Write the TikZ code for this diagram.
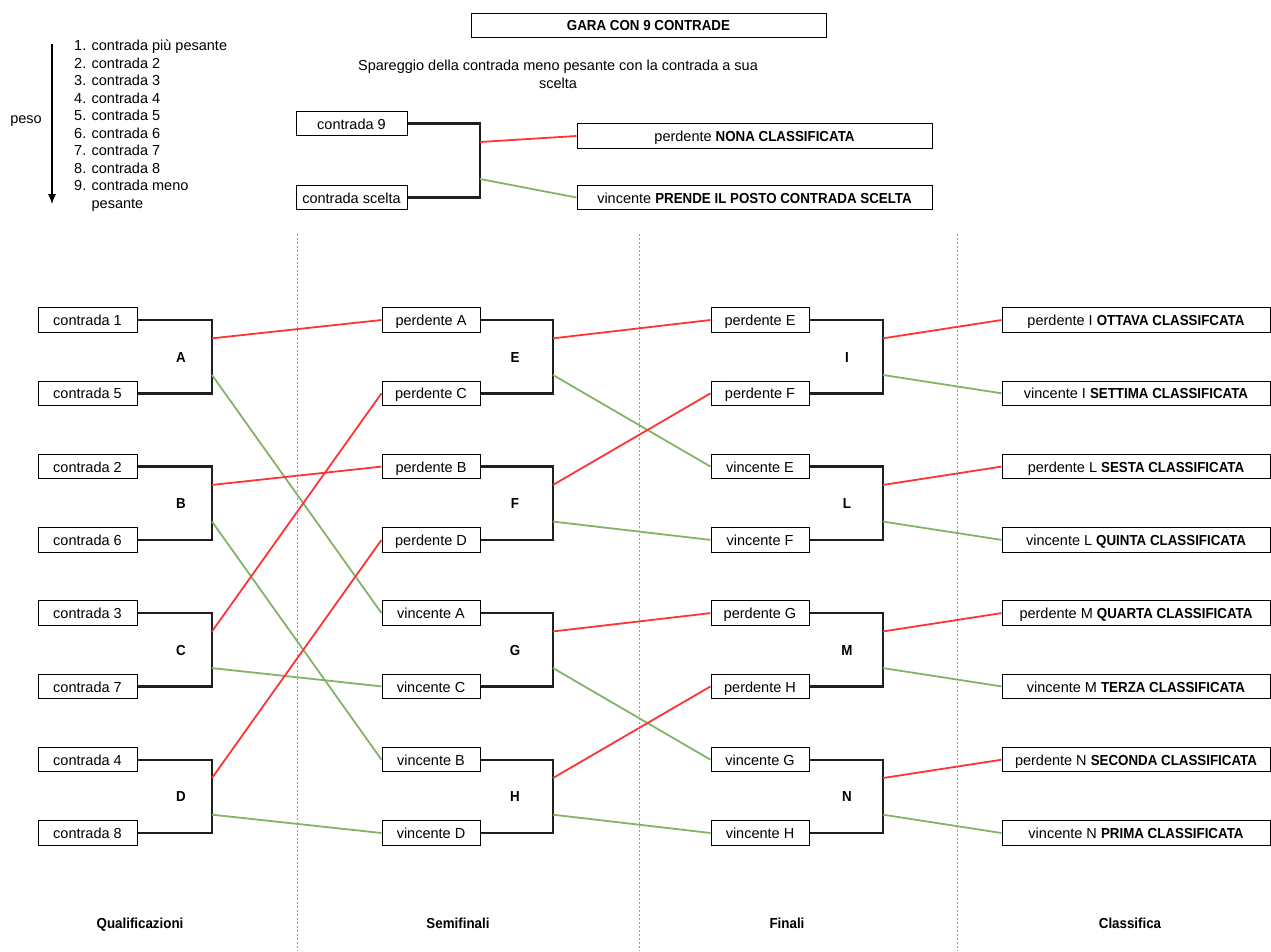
\documentclass[tikz,border=0pt]{standalone}
\usepackage{fontspec}
\setmainfont{Liberation Sans}[BoldFeatures={FakeStretch=0.92}]
\usetikzlibrary{arrows.meta}
\definecolor{lred}{HTML}{FF3333}
\definecolor{lgreen}{HTML}{82B366}
\newcommand\mkbracket[7]{%
  \draw[brk] (#1.east) -- (#4,#5) -- (#4,#6) -- (#2.east);
  \coordinate (#3r) at (#4,{#5+0.25*(#6-#5)});
  \coordinate (#3g) at (#4,{#5+0.75*(#6-#5)});
  \node[lab] (#3lab) at (#7,{0.5*(#5+#6)}) {#3};}
\begin{document}
\begin{tikzpicture}[x=1pt,y=-1pt,
  every node/.style={font=\fontsize{14.5}{17.4}\selectfont, inner sep=0pt, text height=11.2pt, text depth=0pt},
  box/.style={draw=black, line width=1pt, minimum height=24.5pt, align=center},
  bw1/.style={box, minimum width=99pt},
  bw2/.style={box, minimum width=98pt},
  bw4/.style={box, minimum width=268pt},
  brk/.style={draw=black!88, line width=2.4pt},
  lose/.style={draw=lred, line width=1.8pt},
  win/.style={draw=lgreen, line width=1.8pt},
  lab/.style={font=\fontsize{14.5}{17.4}\selectfont\bfseries},
  sepline/.style={draw=gray!80, line width=0.8pt, dash pattern=on 2pt off 2pt},
  lst/.style={anchor=west}]
\useasboundingbox (0,0) rectangle (1271,951);

% separators
\foreach \i/\x in {1/297,2/639,3/957}{
  \coordinate (st\i) at (\x,234);
  \coordinate (sb\i) at (\x,951);
  \draw[sepline] (st\i) -- (sb\i);
}

% title
\node[box, minimum width=355pt, minimum height=24pt, font=\fontsize{14.5}{17.4}\selectfont\bfseries] (title) at (648.5,25) {GARA CON 9 CONTRADE};

% legend
\coordinate (pt) at (52,44);
\coordinate (pb) at (52,204);
\draw[line width=1.1pt, -{Latex[length=10pt,width=8pt]}] (pt) -- (pb);
\node (peso) at (26,118) {peso};
\node[lst] (l1) at (74,45) {1. contrada più pesante};
\node[lst] (l2) at (74,62.5) {2. contrada 2};
\node[lst] (l3) at (74,80) {3. contrada 3};
\node[lst] (l4) at (74,97.5) {4. contrada 4};
\node[lst] (l5) at (74,115) {5. contrada 5};
\node[lst] (l6) at (74,132.5) {6. contrada 6};
\node[lst] (l7) at (74,150) {7. contrada 7};
\node[lst] (l8) at (74,167.5) {8. contrada 8};
\node[lst] (l9) at (74,185) {9. contrada meno};
\node[lst] (l10) at (74,202.5) {\phantom{9. }pesante};

% spareggio
\node[align=center, font=\fontsize{14.5}{18}\selectfont, text height=, text depth=] (spar) at (558,74) {Spareggio della contrada meno pesante con la contrada a sua\\scelta};
\node[box, minimum width=111pt] (c9) at (351.5,123.5) {contrada 9};
\node[box, minimum width=111pt] (cs) at (351.5,197.5) {contrada scelta};
\draw[brk] (c9.east) -- (480,123.5) -- (480,197.5) -- (cs.east);
\coordinate (Tr) at (480,142);
\coordinate (Tg) at (480,179);
\node[box, minimum width=355pt] (nona) at (754.5,136) {perdente \textbf{NONA CLASSIFICATA}};
\node[box, minimum width=355pt] (prende) at (754.5,197.5) {vincente \textbf{PRENDE IL POSTO CONTRADA SCELTA}};
\draw[lose] (Tr) -- (nona.west);
\draw[win] (Tg) -- (prende.west);

% column 1
\node[bw1] (q1) at (87.5,320) {contrada 1};
\node[bw1] (q2) at (87.5,393.3) {contrada 5};
\node[bw1] (q3) at (87.5,466.6) {contrada 2};
\node[bw1] (q4) at (87.5,539.9) {contrada 6};
\node[bw1] (q5) at (87.5,613.1) {contrada 3};
\node[bw1] (q6) at (87.5,686.4) {contrada 7};
\node[bw1] (q7) at (87.5,759.7) {contrada 4};
\node[bw1] (q8) at (87.5,833) {contrada 8};
\mkbracket{q1}{q2}{A}{212}{320}{393.3}{181}
\mkbracket{q3}{q4}{B}{212}{466.6}{539.9}{181}
\mkbracket{q5}{q6}{C}{212}{613.1}{686.4}{181}
\mkbracket{q7}{q8}{D}{212}{759.7}{833}{181}

% column 2
\node[bw2] (s1) at (431,320) {perdente A};
\node[bw2] (s2) at (431,393.3) {perdente C};
\node[bw2] (s3) at (431,466.6) {perdente B};
\node[bw2] (s4) at (431,539.9) {perdente D};
\node[bw2] (s5) at (431,613.1) {vincente A};
\node[bw2] (s6) at (431,686.4) {vincente C};
\node[bw2] (s7) at (431,759.7) {vincente B};
\node[bw2] (s8) at (431,833) {vincente D};
\mkbracket{s1}{s2}{E}{553}{320}{393.3}{515}
\mkbracket{s3}{s4}{F}{553}{466.6}{539.9}{515}
\mkbracket{s5}{s6}{G}{553}{613.1}{686.4}{515}
\mkbracket{s7}{s8}{H}{553}{759.7}{833}{515}

% column 3
\node[bw2] (f1) at (760,320) {perdente E};
\node[bw2] (f2) at (760,393.3) {perdente F};
\node[bw2] (f3) at (760,466.6) {vincente E};
\node[bw2] (f4) at (760,539.9) {vincente F};
\node[bw2] (f5) at (760,613.1) {perdente G};
\node[bw2] (f6) at (760,686.4) {perdente H};
\node[bw2] (f7) at (760,759.7) {vincente G};
\node[bw2] (f8) at (760,833) {vincente H};
\mkbracket{f1}{f2}{I}{883}{320}{393.3}{847}
\mkbracket{f3}{f4}{L}{883}{466.6}{539.9}{847}
\mkbracket{f5}{f6}{M}{883}{613.1}{686.4}{847}
\mkbracket{f7}{f8}{N}{883}{759.7}{833}{847}

% column 4
\node[bw4] (k1) at (1136,320) {perdente I \textbf{OTTAVA CLASSIFCATA}};
\node[bw4] (k2) at (1136,393.3) {vincente I \textbf{SETTIMA CLASSIFICATA}};
\node[bw4] (k3) at (1136,466.6) {perdente L \textbf{SESTA CLASSIFICATA}};
\node[bw4] (k4) at (1136,539.9) {vincente L \textbf{QUINTA CLASSIFICATA}};
\node[bw4] (k5) at (1136,613.1) {perdente M \textbf{QUARTA CLASSIFICATA}};
\node[bw4] (k6) at (1136,686.4) {vincente M \textbf{TERZA CLASSIFICATA}};
\node[bw4] (k7) at (1136,759.7) {perdente N \textbf{SECONDA CLASSIFICATA}};
\node[bw4] (k8) at (1136,833) {vincente N \textbf{PRIMA CLASSIFICATA}};

% connectors
\draw[lose] (Ar) -- (s1.west);
\draw[win] (Ag) -- (s5.west);
\draw[lose] (Br) -- (s3.west);
\draw[win] (Bg) -- (s7.west);
\draw[lose] (Cr) -- (s2.west);
\draw[win] (Cg) -- (s6.west);
\draw[lose] (Dr) -- (s4.west);
\draw[win] (Dg) -- (s8.west);
\draw[lose] (Er) -- (f1.west);
\draw[win] (Eg) -- (f3.west);
\draw[lose] (Fr) -- (f2.west);
\draw[win] (Fg) -- (f4.west);
\draw[lose] (Gr) -- (f5.west);
\draw[win] (Gg) -- (f7.west);
\draw[lose] (Hr) -- (f6.west);
\draw[win] (Hg) -- (f8.west);
\draw[lose] (Ir) -- (k1.west);
\draw[win] (Ig) -- (k2.west);
\draw[lose] (Lr) -- (k3.west);
\draw[win] (Lg) -- (k4.west);
\draw[lose] (Mr) -- (k5.west);
\draw[win] (Mg) -- (k6.west);
\draw[lose] (Nr) -- (k7.west);
\draw[win] (Ng) -- (k8.west);

% column labels
\node[lab] (h1) at (140,923) {Qualificazioni};
\node[lab] (h2) at (458,923) {Semifinali};
\node[lab] (h3) at (787,923) {Finali};
\node[lab] (h4) at (1130,923) {Classifica};
\end{tikzpicture}
\end{document}
